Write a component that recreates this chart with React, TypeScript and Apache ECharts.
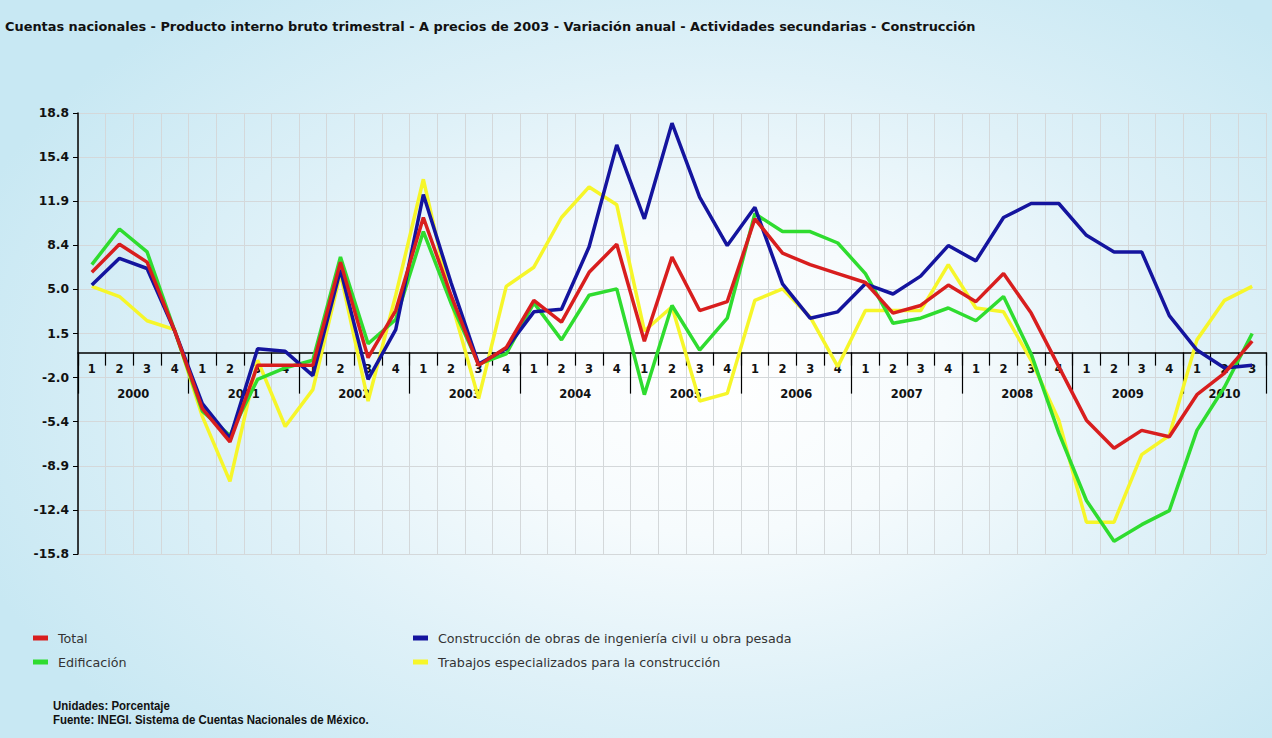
import React, { useEffect, useRef } from "react";
import * as echarts from "echarts";

// Quarterly periods, 2000-Q1 to 2010-Q3
const periods = [
  "2000-1", "2000-2", "2000-3", "2000-4",
  "2001-1", "2001-2", "2001-3", "2001-4",
  "2002-1", "2002-2", "2002-3", "2002-4",
  "2003-1", "2003-2", "2003-3", "2003-4",
  "2004-1", "2004-2", "2004-3", "2004-4",
  "2005-1", "2005-2", "2005-3", "2005-4",
  "2006-1", "2006-2", "2006-3", "2006-4",
  "2007-1", "2007-2", "2007-3", "2007-4",
  "2008-1", "2008-2", "2008-3", "2008-4",
  "2009-1", "2009-2", "2009-3", "2009-4",
  "2010-1", "2010-2", "2010-3",
];

// Year labels, placed at the middle of each year's quarters
const years = ["2000", "2001", "2002", "2003", "2004", "2005", "2006", "2007", "2008", "2009", "2010"];
const yearCenters = [2, 6, 10, 14, 18, 22, 26, 30, 34, 38, 41.5];
const yearBounds = [0, 4, 8, 12, 16, 20, 24, 28, 32, 36, 40, 43];

// Value axis ticks
const yTickValues = [-15.8, -12.34, -8.88, -5.42, -1.96, 1.5, 4.96, 8.42, 11.88, 15.34, 18.8];
const yTickLabels = ["-15.8", "-12.4", "-8.9", "-5.4", "-2.0", "1.5", "5.0", "8.4", "11.9", "15.4", "18.8"];

// Annual variation (%)
const total = [
  6.3, 8.5, 7.1, 1.7,
  -4.4, -7.0, -1.0, -1.0,
  -1.0, 7.1, -0.4, 3.3,
  10.6, 4.5, -1.0, 0.4,
  4.1, 2.4, 6.3, 8.5,
  0.9, 7.5, 3.3, 4.0,
  10.5, 7.8, 6.9, 6.2,
  5.5, 3.1, 3.7, 5.3,
  4.0, 6.2, 3.1, -1.1,
  -5.3, -7.5, -6.1, -6.6,
  -3.3, -1.6, 0.9,
];
const edificacion = [
  6.9, 9.7, 7.9, 1.7,
  -4.6, -6.5, -2.1, -1.2,
  -0.6, 7.5, 0.7, 2.6,
  9.5, 3.9, -0.9, -0.1,
  3.9, 1.0, 4.5, 5.0,
  -3.3, 3.7, 0.2, 2.7,
  10.9, 9.5, 9.5, 8.6,
  6.2, 2.3, 2.7, 3.5,
  2.5, 4.4, -0.1, -6.3,
  -11.6, -14.8, -13.5, -12.4,
  -6.1, -2.7, 1.5,
];
const ingenieriaCivil = [
  5.3, 7.4, 6.6, 1.7,
  -4.0, -6.7, 0.3, 0.1,
  -1.8, 6.5, -2.1, 1.8,
  12.4, 5.5, -0.9, 0.3,
  3.2, 3.4, 8.3, 16.3,
  10.5, 18.0, 12.2, 8.4,
  11.4, 5.4, 2.7, 3.2,
  5.4, 4.6, 6.0, 8.4,
  7.2, 10.6, 11.7, 11.7,
  9.2, 7.9, 7.9, 2.9,
  0.2, -1.2, -1.0,
];
const trabajosEspecializados = [
  5.2, 4.4, 2.5, 1.8,
  -5.0, -10.1, -0.6, -5.8,
  -2.9, 6.2, -3.8, 4.5,
  13.6, 4.1, -3.6, 5.2,
  6.7, 10.6, 13.0, 11.6,
  1.7, 3.6, -3.8, -3.2,
  4.1, 5.0, 2.8, -1.1,
  3.3, 3.3, 3.3, 6.9,
  3.5, 3.2, -0.6, -5.3,
  -13.3, -13.3, -8.0, -6.5,
  1.0, 4.1, 5.2,
];

const NAME_TOTAL = "Total";
const NAME_EDIF = "Edificación";
const NAME_CIVIL = "Construcción de obras de ingeniería civil u obra pesada";
const NAME_TRAB = "Trabajos especializados para la construcción";

const WIDE_FONT = "'DejaVu Sans', Verdana, sans-serif";
const TEXT_FONT = "'Liberation Sans', Arial, sans-serif";

// Plot area
const GRID = { left: 78, right: 6, top: 113, bottom: 184 };
const CHART_H = 738;

export default function App() {
  const ref = useRef<HTMLDivElement>(null);

  useEffect(() => {
    if (!ref.current) return;
    const chart = echarts.init(ref.current, null, { renderer: "svg" });

    const yMin = yTickValues[0];
    const yMax = yTickValues[yTickValues.length - 1];
    // Shift the category axes up from the plot bottom to the zero line
    const plotH = CHART_H - GRID.top - GRID.bottom;
    const zeroOffset = -plotH * (0 - yMin) / (yMax - yMin);

    const lineSeries = (name: string, data: number[], color: string, z: number) => ({
      name,
      type: "line",
      xAxisIndex: 0,
      yAxisIndex: 0,
      data,
      showSymbol: false,
      symbol: "none",
      z,
      lineStyle: { color, width: 3.5 },
      itemStyle: { color },
    });

    const legendBase = {
      orient: "vertical",
      top: 631,
      padding: 0,
      itemGap: 10,
      itemWidth: 15,
      itemHeight: 5,
      icon: "rect",
      selectedMode: false,
      textStyle: { fontFamily: WIDE_FONT, fontSize: 12.7, color: "#333", padding: [0, 0, 0, 5], lineHeight: 14 },
    };

    chart.setOption({
      animation: false,
      backgroundColor: "transparent",
      title: {
        text: "Cuentas nacionales - Producto interno bruto trimestral - A precios de 2003 - Variación anual - Actividades secundarias - Construcción",
        left: 5,
        top: 20,
        padding: 0,
        textStyle: { fontFamily: WIDE_FONT, fontSize: 12.9, fontWeight: "bold", color: "#111" },
      },
      legend: [
        { ...legendBase, data: [NAME_TOTAL, NAME_EDIF], left: 33 },
        { ...legendBase, data: [NAME_CIVIL, NAME_TRAB], left: 413 },
      ],
      grid: { ...GRID, containLabel: false },
      xAxis: [
        {
          type: "category",
          data: periods,
          boundaryGap: true,
          position: "bottom",
          offset: zeroOffset,
          axisLine: { onZero: false, lineStyle: { color: "#000", width: 1.5 } },
          axisTick: { show: true, interval: 0, length: 13, lineStyle: { color: "#000", width: 1.2 } },
          axisLabel: {
            interval: 0,
            margin: 10,
            formatter: (v: string) => v.split("-")[1],
            fontFamily: WIDE_FONT,
            fontSize: 11.5,
            fontWeight: "bold",
            color: "#111",
          },
          splitLine: { show: true, interval: 0, lineStyle: { color: "#d4d8da", width: 1 } },
        },
        {
          type: "value",
          min: 0,
          max: 43,
          position: "bottom",
          offset: zeroOffset,
          axisLine: { show: false, onZero: false },
          axisTick: { show: true, customValues: yearBounds, length: 41, lineStyle: { color: "#000", width: 1.2 } },
          axisLabel: {
            customValues: yearCenters,
            margin: 35,
            formatter: (v: number) => {
              const i = yearCenters.indexOf(v);
              return i >= 0 ? years[i] : "";
            },
            fontFamily: WIDE_FONT,
            fontSize: 11.5,
            fontWeight: "bold",
            color: "#111",
          },
          splitLine: { show: false },
        },
      ],
      yAxis: {
        type: "value",
        min: yMin,
        max: yMax,
        axisLine: { show: true, onZero: false, lineStyle: { color: "#000", width: 1.5 } },
        axisTick: { show: true, customValues: yTickValues, length: 5, lineStyle: { color: "#000" } },
        axisLabel: {
          customValues: yTickValues,
          margin: 9,
          formatter: (v: number) => {
            let best = 0;
            yTickValues.forEach((t, i) => {
              if (Math.abs(t - v) < Math.abs(yTickValues[best] - v)) best = i;
            });
            return yTickLabels[best];
          },
          fontFamily: WIDE_FONT,
          fontSize: 12.3,
          fontWeight: "bold",
          color: "#111",
        },
        splitLine: { show: true, lineStyle: { color: "#d4d8da", width: 1 } },
      },
      series: [
        lineSeries(NAME_TRAB, trabajosEspecializados, "#f6f62a", 2),
        lineSeries(NAME_EDIF, edificacion, "#2fdc2f", 3),
        lineSeries(NAME_CIVIL, ingenieriaCivil, "#14149e", 4),
        lineSeries(NAME_TOTAL, total, "#d81e1e", 5),
      ],
      graphic: [
        {
          type: "text",
          x: 53,
          y: 699,
          scaleX: 0.88,
          style: {
            text: "Unidades: Porcentaje\nFuente: INEGI. Sistema de Cuentas Nacionales de México.",
            font: `bold 13px ${TEXT_FONT}`,
            fill: "#111",
            lineHeight: 14,
          },
        },
      ],
    });

    return () => chart.dispose();
  }, []);

  return (
    <div
      style={{
        position: "absolute",
        left: 0,
        top: 0,
        width: 1272,
        height: 738,
        background:
          "radial-gradient(ellipse 62% 68% at 56% 52%, #ffffff 0%, #f6fbfd 30%, #dff1f8 62%, #c8e8f3 100%)",
      }}
    >
      <div ref={ref} style={{ width: 1272, height: CHART_H }} />
    </div>
  );
}
